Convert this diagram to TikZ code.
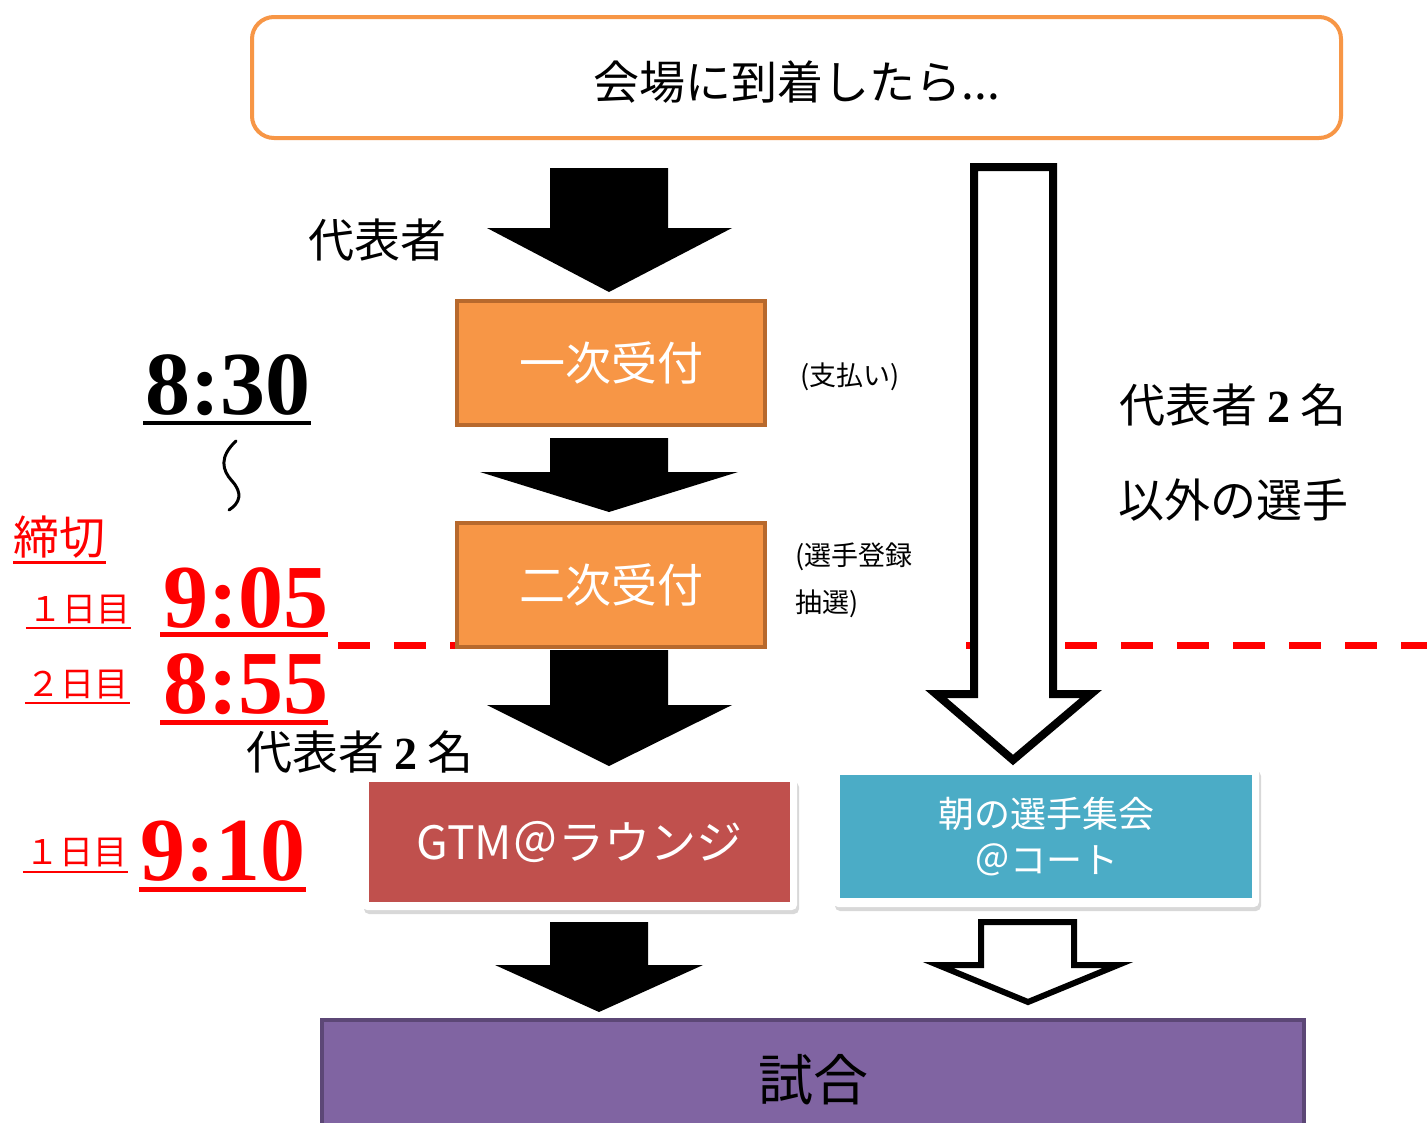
\documentclass[tikz,border=0pt]{standalone}
\usepackage{fontspec}
\setmainfont{Liberation Serif}
\newfontfamily\cjk{Noto Sans CJK JP}
\usetikzlibrary{shadows}
\definecolor{orng}{HTML}{F79646}
\definecolor{orngdark}{RGB}{183,105,45}
\definecolor{gtmred}{HTML}{C0504D}
\definecolor{tealbox}{HTML}{4BACC6}
\definecolor{purp}{HTML}{8064A2}
\definecolor{purpdark}{HTML}{5C4776}
\definecolor{tred}{HTML}{FF0000}
\newcommand\myfs[1]{\fontsize{#1}{#1}\selectfont}
\begin{document}
\begin{tikzpicture}[x=1pt,y=-1pt,
  jp/.style={inner sep=0pt, font=\cjk\myfs{#1}},
  num/.style={inner sep=0pt, font=\bfseries\myfs{90}, anchor=base west},
  ulthick/.style={line width=5pt},
  ulthin/.style={line width=2.2pt},
  stepbox/.style={draw=orngdark, line width=4pt, fill=orng, minimum width=308pt, minimum height=124pt, text=white, font=\cjk\myfs{46}},
  blockarrow/.style={fill=black, draw=none},
  hollowarrow/.style={fill=white, draw=black, miter limit=10},
  cut/.style={tred, line width=7pt, dash pattern=on 32pt off 24pt}]
\clip (0,0) rectangle (1427,1122);
\fill[white] (0,0) rectangle (1427,1122);

% red dashed deadline line
\coordinate (dashA) at (338,645);
\coordinate (dashB) at (455,645);
\coordinate (dashC) at (966,645);
\coordinate (dashD) at (1427,645);
\draw[cut] (dashA) -- (dashB);
\draw[cut, dash phase=13pt] (dashC) -- (dashD);

% top box
\node[draw=orng, line width=4pt, rounded corners=22pt, minimum width=1089pt, minimum height=121pt] (top) at (796.5,77.5) {};
\node[jp=46] (arrive) at (797,82) {会場に到着したら...};

% left column block arrows
\fill[blockarrow] (550,168) -- (668,168) -- (668,228) -- (732,228) -- (609,292) -- (487,228) -- (550,228) -- cycle;
\fill[blockarrow] (550,438) -- (668,438) -- (668,472) -- (738,472) -- (609,512) -- (480,472) -- (550,472) -- cycle;
\fill[blockarrow] (550,650) -- (668,650) -- (668,705) -- (732,705) -- (609,766) -- (487,705) -- (550,705) -- cycle;
\fill[blockarrow] (550,922) -- (648,922) -- (648,965) -- (703,965) -- (599,1012) -- (495,965) -- (550,965) -- cycle;

% right column hollow arrows
\draw[hollowarrow, line width=8pt] (974,167) -- (1053,167) -- (1053,694) -- (1091,694) -- (1013,760) -- (936,694) -- (974,694) -- cycle;
\draw[hollowarrow, line width=6pt] (981,922) -- (1074,922) -- (1074,965) -- (1118,965) -- (1028,1002) -- (938,965) -- (981,965) -- cycle;

% labels
\node[jp=46] (rep) at (377,240) {代表者};
\node[stepbox] (first) at (611,363) {一次受付};
\node[jp=27, anchor=west] (pay) at (800,377) {(支払い)};
\node[stepbox] (second) at (611,585) {二次受付};
\node[jp=27, anchor=west] (reg1) at (795,557) {(選手登録};
\node[jp=27, anchor=west] (reg2) at (795,604) {抽選)};
\node[jp=46] (rep2) at (360,752) {代表者 {\rmfamily\bfseries 2} 名};
\node[jp=46] (others1) at (1233,405) {代表者 {\rmfamily\bfseries 2} 名};
\node[jp=46] (others2) at (1233,500) {以外の選手};

% GTM lounge box
\node[fill=white, rounded corners=5pt, minimum width=435pt, minimum height=132pt,
      drop shadow={opacity=0.3, shadow xshift=2pt, shadow yshift=-4pt}] (gtmback) at (579.5,844) {};
\node[fill=gtmred, minimum width=421pt, minimum height=120pt, text=white, font=\cjk\myfs{46}] (gtm) at (579.5,842) {GTM＠ラウンジ};

% court meeting box
\node[fill=white, rounded corners=5pt, minimum width=426pt, minimum height=140pt,
      drop shadow={opacity=0.3, shadow xshift=2pt, shadow yshift=-4pt}] (courtback) at (1046,837) {};
\node[fill=tealbox, minimum width=412pt, minimum height=123pt, text=white, align=center,
      font=\cjk\fontsize{36}{46}\selectfont] (court) at (1046,836.5) {朝の選手集会\\＠コート};

% match box
\draw[fill=purp, draw=purpdark, line width=4pt] (322,1020) rectangle (1304,1140);
\node[jp=55] (match) at (813,1080) {試合};

% times
\node[num] (t830) at (145,414) {8:30};
\draw[ulthick, line width=4.5pt] ([xshift=-2pt,yshift=-9pt]t830.base west) -- ([xshift=1pt,yshift=-9pt]t830.base east);
\draw[line width=3pt, line cap=round] (236,441) .. controls (219,457) and (222,470) .. (232,481) .. controls (243,493) and (240,503) .. (229,510);

\node[jp=46, text=tred] (shime) at (59.5,537) {締切};
\draw[tred, line width=3pt] ([yshift=-4pt]shime.south west) -- ([yshift=-4pt]shime.south east);

\node[jp=34, text=tred] (day1a) at (79,610) {１日目};
\draw[tred, ulthin] ([xshift=-2pt,yshift=-3pt]day1a.south west) -- ([xshift=1pt,yshift=-3pt]day1a.south east);
\node[num, text=tred] (t905) at (163,627) {9:05};
\draw[tred, ulthick] ([xshift=-3pt,yshift=-7pt]t905.base west) -- ([xshift=0pt,yshift=-7pt]t905.base east);

\node[jp=34, text=tred] (day2) at (78,685) {２日目};
\draw[tred, ulthin] ([xshift=-2pt,yshift=-3pt]day2.south west) -- ([xshift=1pt,yshift=-3pt]day2.south east);
\node[num, text=tred] (t855) at (163,713) {8:55};
\draw[tred, ulthick] ([xshift=-3pt,yshift=-9pt]t855.base west) -- ([xshift=0pt,yshift=-9pt]t855.base east);

\node[jp=34, text=tred] (day1b) at (76,853) {１日目};
\draw[tred, ulthin] ([xshift=-2pt,yshift=-4pt]day1b.south west) -- ([xshift=1pt,yshift=-4pt]day1b.south east);
\node[num, text=tred] (t910) at (140,880) {9:10};
\draw[tred, ulthick] ([xshift=-1pt,yshift=-9pt]t910.base west) -- ([xshift=1pt,yshift=-9pt]t910.base east);
\end{tikzpicture}
\end{document}
